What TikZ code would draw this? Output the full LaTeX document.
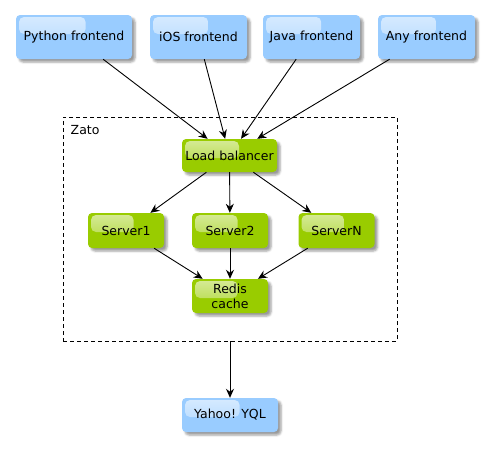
\documentclass[tikz,border=0pt]{standalone}
\usepackage{fontspec}
\setmainfont{DejaVu Sans}
\usetikzlibrary{calc,shadows.blur,arrows.meta}
\definecolor{frontblue}{HTML}{99CCFF}
\definecolor{zatogreen}{HTML}{99CC00}
\tikzset{
  block/.style = {fill = #1, rounded corners = 4pt, inner sep = 0mm, align = center,
    font = \fontsize{12.5}{15}\selectfont,
    blur shadow = {shadow xshift = 3pt, shadow yshift = -3pt, shadow blur steps = 4, shadow opacity = 40},
    path picture = {\shade[top color = white!60!#1, bottom color = white!20!#1, rounded corners = 5pt]
      ([shift = {(3pt,-2pt)}]path picture bounding box.north west) rectangle
      ($(path picture bounding box.north west)!.6!(path picture bounding box.north east) + (0,-19pt)$);}},
  front/.style = {block = frontblue, minimum width = 97pt, minimum height = 44pt},
  srv/.style   = {block = zatogreen, minimum width = 76pt, minimum height = 35pt},
  link/.style  = {draw = black, line width = .9pt, -{Stealth[length = 9pt, width = 8pt]}},
  group/.style = {draw = black, line width = .8pt, dash pattern = on 4pt off 3pt, minimum width = 334pt, minimum height = 224pt},
}
\begin{document}
\begin{tikzpicture}[x = 1pt, y = -1pt]
  \useasboundingbox (0,0) rectangle (490,448);
% zato group
  \node[group] (zato) at (230,229) {};
  \node[anchor = north west, inner sep = 0mm, font = \fontsize{12.5}{15}\selectfont] (zatolabel) at (70.5,125) {Zato};
% frontends
  \node[front, minimum width = 116pt] (python) at (74,37) {Python frontend};
  \node[front] (ios)      at (198.5,37) {iOS frontend};
  \node[front] (java)     at (311.5,37) {Java frontend};
  \node[front] (anyfront) at (426.5,37) {Any frontend};
% servers
  \node[srv, minimum width = 95pt, minimum height = 33pt] (lb) at (229.5,155.5) {Load balancer};
  \node[srv] (server1) at (126,230.5)   {Server1};
  \node[srv] (server2) at (230,230.5)   {Server2};
  \node[srv] (serverN) at (336.5,230.5) {ServerN};
  \node[srv, minimum height = 34pt] (redis) at (230,296) {Redis\\cache};
  \node[block = frontblue, minimum width = 96pt, minimum height = 34pt] (yahoo) at (230,415) {Yahoo! YQL};
% links
  \foreach \src in {python,ios,java,anyfront}{
    \draw[link] (\src) -- (lb);
  }
  \foreach \dst in {server1,server2,serverN}{
    \draw[link] (lb) -- (\dst);
    \draw[link] (\dst) -- (redis);
  }
  \draw[link] (zato.south) -- (yahoo.north);
\end{tikzpicture}
\end{document}
